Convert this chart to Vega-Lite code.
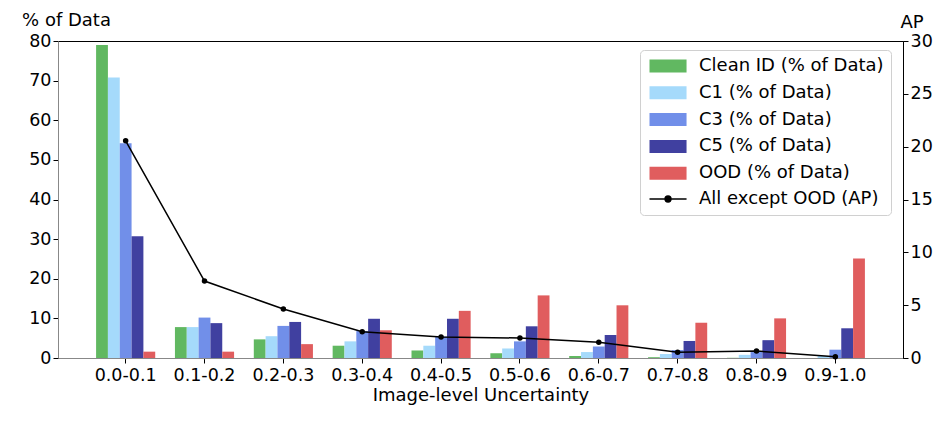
{
  "$schema": "https://vega.github.io/schema/vega-lite/v6.json",
  "width": 845,
  "height": 317,
  "autosize": {"type": "none"},
  "padding": {"left": 58, "top": 41, "right": 49, "bottom": 65},
  "config": {
    "font": "DejaVu Sans",
    "view": {"stroke": "black", "strokeWidth": 1},
    "axis": {
      "grid": false,
      "labelFont": "DejaVu Sans",
      "titleFont": "DejaVu Sans",
      "labelFontSize": 17.5,
      "titleFontSize": 18,
      "labelColor": "black",
      "titleColor": "black",
      "titleFontWeight": "normal",
      "domainColor": "black",
      "tickColor": "black",
      "tickSize": 5
    }
  },
  "datasets": {
    "bars": [
      {"bin": "0.0-0.1", "series": "Clean ID (% of Data)", "value": 79.0},
      {"bin": "0.0-0.1", "series": "C1 (% of Data)", "value": 70.8},
      {"bin": "0.0-0.1", "series": "C3 (% of Data)", "value": 54.2},
      {"bin": "0.0-0.1", "series": "C5 (% of Data)", "value": 30.7},
      {"bin": "0.0-0.1", "series": "OOD (% of Data)", "value": 1.6},
      {"bin": "0.1-0.2", "series": "Clean ID (% of Data)", "value": 7.8},
      {"bin": "0.1-0.2", "series": "C1 (% of Data)", "value": 7.8},
      {"bin": "0.1-0.2", "series": "C3 (% of Data)", "value": 10.2},
      {"bin": "0.1-0.2", "series": "C5 (% of Data)", "value": 8.8},
      {"bin": "0.1-0.2", "series": "OOD (% of Data)", "value": 1.6},
      {"bin": "0.2-0.3", "series": "Clean ID (% of Data)", "value": 4.7},
      {"bin": "0.2-0.3", "series": "C1 (% of Data)", "value": 5.5},
      {"bin": "0.2-0.3", "series": "C3 (% of Data)", "value": 8.1},
      {"bin": "0.2-0.3", "series": "C5 (% of Data)", "value": 9.1},
      {"bin": "0.2-0.3", "series": "OOD (% of Data)", "value": 3.5},
      {"bin": "0.3-0.4", "series": "Clean ID (% of Data)", "value": 3.1},
      {"bin": "0.3-0.4", "series": "C1 (% of Data)", "value": 4.2},
      {"bin": "0.3-0.4", "series": "C3 (% of Data)", "value": 6.8},
      {"bin": "0.3-0.4", "series": "C5 (% of Data)", "value": 9.9},
      {"bin": "0.3-0.4", "series": "OOD (% of Data)", "value": 7.0},
      {"bin": "0.4-0.5", "series": "Clean ID (% of Data)", "value": 1.9},
      {"bin": "0.4-0.5", "series": "C1 (% of Data)", "value": 3.1},
      {"bin": "0.4-0.5", "series": "C3 (% of Data)", "value": 5.4},
      {"bin": "0.4-0.5", "series": "C5 (% of Data)", "value": 9.9},
      {"bin": "0.4-0.5", "series": "OOD (% of Data)", "value": 11.9},
      {"bin": "0.5-0.6", "series": "Clean ID (% of Data)", "value": 1.2},
      {"bin": "0.5-0.6", "series": "C1 (% of Data)", "value": 2.4},
      {"bin": "0.5-0.6", "series": "C3 (% of Data)", "value": 4.2},
      {"bin": "0.5-0.6", "series": "C5 (% of Data)", "value": 8.0},
      {"bin": "0.5-0.6", "series": "OOD (% of Data)", "value": 15.8},
      {"bin": "0.6-0.7", "series": "Clean ID (% of Data)", "value": 0.5},
      {"bin": "0.6-0.7", "series": "C1 (% of Data)", "value": 1.5},
      {"bin": "0.6-0.7", "series": "C3 (% of Data)", "value": 2.9},
      {"bin": "0.6-0.7", "series": "C5 (% of Data)", "value": 5.8},
      {"bin": "0.6-0.7", "series": "OOD (% of Data)", "value": 13.3},
      {"bin": "0.7-0.8", "series": "Clean ID (% of Data)", "value": 0.2},
      {"bin": "0.7-0.8", "series": "C1 (% of Data)", "value": 1.0},
      {"bin": "0.7-0.8", "series": "C3 (% of Data)", "value": 2.0},
      {"bin": "0.7-0.8", "series": "C5 (% of Data)", "value": 4.3},
      {"bin": "0.7-0.8", "series": "OOD (% of Data)", "value": 8.9},
      {"bin": "0.8-0.9", "series": "Clean ID (% of Data)", "value": 0.05},
      {"bin": "0.8-0.9", "series": "C1 (% of Data)", "value": 0.8},
      {"bin": "0.8-0.9", "series": "C3 (% of Data)", "value": 1.5},
      {"bin": "0.8-0.9", "series": "C5 (% of Data)", "value": 4.5},
      {"bin": "0.8-0.9", "series": "OOD (% of Data)", "value": 10.0},
      {"bin": "0.9-1.0", "series": "Clean ID (% of Data)", "value": 0.0},
      {"bin": "0.9-1.0", "series": "C1 (% of Data)", "value": 0.5},
      {"bin": "0.9-1.0", "series": "C3 (% of Data)", "value": 2.1},
      {"bin": "0.9-1.0", "series": "C5 (% of Data)", "value": 7.5},
      {"bin": "0.9-1.0", "series": "OOD (% of Data)", "value": 25.1}
    ],
    "ap": [
      {"bin": "0.0-0.1", "ap": 20.55},
      {"bin": "0.1-0.2", "ap": 7.28},
      {"bin": "0.2-0.3", "ap": 4.64},
      {"bin": "0.3-0.4", "ap": 2.49},
      {"bin": "0.4-0.5", "ap": 1.99},
      {"bin": "0.5-0.6", "ap": 1.89},
      {"bin": "0.6-0.7", "ap": 1.48},
      {"bin": "0.7-0.8", "ap": 0.54},
      {"bin": "0.8-0.9", "ap": 0.66},
      {"bin": "0.9-1.0", "ap": 0.12}
    ]
  },
  "layer": [
    {
      "data": {"name": "bars"},
      "mark": {"type": "bar"},
      "encoding": {
        "x": {
          "field": "bin",
          "type": "nominal",
          "sort": null,
          "scale": {"paddingInner": 0.25, "paddingOuter": 0.483},
          "axis": {"title": "Image-level Uncertainty", "labelAngle": 0, "labelPadding": 3, "domainColor": "#888888", "titlePadding": 3}
        },
        "xOffset": {
          "field": "series",
          "type": "nominal",
          "scale": {"domain": ["Clean ID (% of Data)", "C1 (% of Data)", "C3 (% of Data)", "C5 (% of Data)", "OOD (% of Data)"], "paddingInner": 0, "paddingOuter": 0}
        },
        "y": {
          "field": "value",
          "type": "quantitative",
          "scale": {"domain": [0, 80], "nice": false},
          "axis": {
            "title": "% of Data",
            "values": [0, 10, 20, 30, 40, 50, 60, 70, 80],
            "titleAngle": 0,
            "titleAlign": "center",
            "titleBaseline": "middle",
            "titleX": 8,
            "titleY": -21,
            "labelPadding": 2,
            "domainColor": "#888888"
          }
        },
        "color": {
          "field": "series",
          "type": "nominal",
          "scale": {
            "domain": ["Clean ID (% of Data)", "C1 (% of Data)", "C3 (% of Data)", "C5 (% of Data)", "OOD (% of Data)", "All except OOD (AP)"],
            "range": ["#61b861", "#a5dafb", "#718fe9", "#4040a0", "#e05d5e", "black"]
          },
          "legend": {
            "title": null,
            "orient": "none",
            "legendX": 582,
            "legendY": 9,
            "labelFont": "DejaVu Sans",
            "labelFontSize": 18,
            "labelColor": "black",
            "labelLimit": 400,
            "symbolSize": 169,
            "symbolType": "M-1,-1H4.7V1H-1Z",
            "labelOffset": 34,
            "rowPadding": 6.8,
            "padding": 7,
            "strokeColor": "#d0d0d0",
            "fillColor": "white",
            "cornerRadius": 4,
            "encode": {
              "symbols": {
                "update": {
                  "shape": {"signal": "datum.value === 'All except OOD (AP)' ? 'M-1,0H4.7M1.85,0m-0.45,0a0.45,0.45 0 1,0 0.9,0a0.45,0.45 0 1,0 -0.9,0' : 'M-1,-1H4.7V1H-1Z'"},
                  "stroke": {"signal": "datum.value === 'All except OOD (AP)' ? 'black' : 'transparent'"},
                  "strokeWidth": {"value": 1.5}
                }
              }
            }
          }
        }
      }
    },
    {
      "data": {"name": "ap"},
      "mark": {"type": "line", "color": "black", "strokeWidth": 1.5, "point": {"filled": true, "size": 30, "color": "black"}},
      "encoding": {
        "x": {"field": "bin", "type": "nominal", "sort": null},
        "y": {
          "field": "ap",
          "type": "quantitative",
          "scale": {"domain": [0, 30], "nice": false},
          "axis": {
            "orient": "right",
            "title": "AP",
            "values": [0, 5, 10, 15, 20, 25, 30],
            "titleAngle": 0,
            "titleAlign": "center",
            "titleBaseline": "middle",
            "titleX": 8.5,
            "titleY": -19,
            "labelPadding": 2
          }
        }
      }
    }
  ],
  "resolve": {"scale": {"y": "independent"}}
}
